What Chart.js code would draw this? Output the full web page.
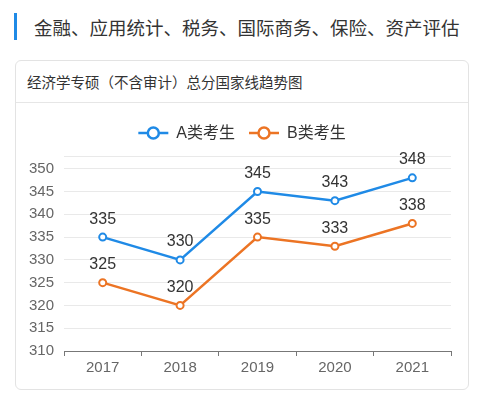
<!DOCTYPE html>
<html>
<head>
<meta charset="utf-8">
<script src="https://cdn.jsdelivr.net/npm/chart.js@4"></script>
<style>
  html, body { margin: 0; padding: 0; background: #fff; }
  body { width: 481px; height: 394px; position: relative; overflow: hidden;
         font-family: "Noto Sans CJK SC", sans-serif; }
  .bar { position: absolute; left: 14px; top: 13px; width: 3px; height: 27px; background: #1f8ae6; }
  .head { position: absolute; left: 34px; top: 14px; font-size: 18.5px; line-height: 26px; color: #333; white-space: nowrap; }
  .card { position: absolute; left: 15px; top: 60px; width: 452px; height: 328px;
          border: 1px solid #e3e3e3; border-radius: 6px; box-sizing: content-box; }
  .card-title { height: 41px; line-height: 42px; padding-left: 11px; font-size: 14.5px; color: #333;
                border-bottom: 1px solid #e6e6e6; white-space: nowrap; }
  .wrap { position: absolute; left: 0; top: 42px; width: 452px; height: 286px; }
</style>
</head>
<body>
<div class="bar"></div>
<div class="head">金融、应用统计、税务、国际商务、保险、资产评估</div>
<div class="card">
  <div class="card-title">经济学专硕（不含审计）总分国家线趋势图</div>
  <div class="wrap"><canvas id="chart" width="452" height="286"></canvas></div>
</div>
<script>
// data
const years = ['2017', '2018', '2019', '2020', '2021'];
const seriesA = [335, 330, 345, 343, 348];
const seriesB = [325, 320, 335, 333, 338];
const labelA = 'A类考生';
const labelB = 'B类考生';
const yTicks = [310, 315, 320, 325, 330, 335, 340, 345, 350];
const yMin = 310;
const yMax = 352.8;

const BLUE = '#1f8ae6';
const ORANGE = '#ec7424';
const NUM_FONT = '"Liberation Sans", "Noto Sans CJK SC", sans-serif';

// legend: line with hollow circle, then label, centred on top
const legendPlugin = {
  id: 'lineLegend',
  afterDraw(chart) {
    const ctx = chart.ctx;
    const y = 30;
    ctx.save();
    ctx.font = '16px ' + NUM_FONT;
    const items = chart.data.datasets.map(ds => ({
      ds,
      w: 30 + 8 + ctx.measureText(ds.label).width
    }));
    const gap = 14;
    const total = items.reduce((s, it) => s + it.w, 0) + gap * (items.length - 1);
    let x = (chart.width - total) / 2;
    items.forEach(it => {
      ctx.strokeStyle = it.ds.borderColor;
      ctx.lineWidth = 2.5;
      ctx.beginPath();
      ctx.moveTo(x, y);
      ctx.lineTo(x + 30, y);
      ctx.stroke();
      ctx.beginPath();
      ctx.arc(x + 15, y, 5.5, 0, Math.PI * 2);
      ctx.fillStyle = '#fff';
      ctx.fill();
      ctx.stroke();
      ctx.fillStyle = '#333';
      ctx.textBaseline = 'middle';
      ctx.textAlign = 'left';
      ctx.fillText(it.ds.label, x + 38, y + 1);
      x += it.w + gap;
    });
    ctx.restore();
  }
};

// value labels above each point
const valueLabels = {
  id: 'valueLabels',
  afterDatasetsDraw(chart) {
    const ctx = chart.ctx;
    ctx.save();
    ctx.font = '16px ' + NUM_FONT;
    ctx.fillStyle = '#333';
    ctx.textAlign = 'center';
    ctx.textBaseline = 'middle';
    chart.data.datasets.forEach((ds, i) => {
      chart.getDatasetMeta(i).data.forEach((pt, j) => {
        ctx.fillText(String(ds.data[j]), pt.x, pt.y - 18);
      });
    });
    ctx.restore();
  }
};

const lineStyle = color => ({
  borderColor: color,
  backgroundColor: color,
  borderWidth: 2.5,
  pointRadius: 3.5,
  pointBorderWidth: 2,
  pointBackgroundColor: '#fff',
  pointBorderColor: color,
  tension: 0,
  fill: false
});

new Chart(document.getElementById('chart'), {
  type: 'line',
  data: {
    labels: years,
    datasets: [
      { label: labelA, data: seriesA, ...lineStyle(BLUE) },
      { label: labelB, data: seriesB, ...lineStyle(ORANGE) }
    ]
  },
  options: {
    responsive: false,
    animation: false,
    layout: { padding: { left: 0, right: 17, top: 53, bottom: 0 } },
    plugins: { legend: { display: false }, tooltip: { enabled: false } },
    scales: {
      x: {
        offset: true,
        grid: { offset: true, drawOnChartArea: false, drawTicks: true, tickLength: 5, color: '#777' },
        border: { display: true, color: '#777', width: 1 },
        ticks: { color: '#666', font: { family: NUM_FONT, size: 15 }, padding: 3 },
        afterFit(scale) { scale.height = 38; }
      },
      y: {
        min: yMin,
        max: yMax,
        afterBuildTicks(scale) {
          scale.ticks = yTicks.concat([yMax]).map(v => ({ value: v }));
        },
        grid: { color: '#e9e9e9', lineWidth: 1, drawTicks: false },
        border: { display: false },
        ticks: {
          color: '#666',
          font: { family: NUM_FONT, size: 15 },
          padding: 10,
          callback: v => (yTicks.includes(v) ? String(v) : '')
        },
        afterFit(scale) { scale.width = 48; }
      }
    }
  },
  plugins: [legendPlugin, valueLabels]
});
</script>
</body>
</html>
